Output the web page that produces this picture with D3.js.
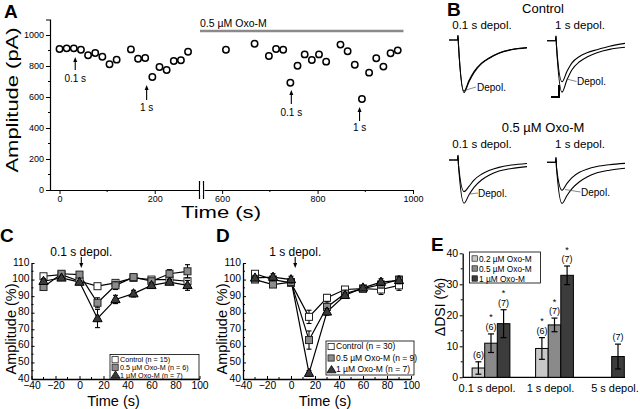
<!DOCTYPE html>
<html><head><meta charset="utf-8">
<script src="https://cdn.jsdelivr.net/npm/d3@7"></script>
<style>body{margin:0;background:#fff}svg{display:block}text{font-family:"Liberation Sans",Arial,Helvetica,sans-serif}</style>
</head><body>
<script>
// ---------- Panel A data ----------
const aTimeBefore = [0,15,30,45,60,75,90,105,120,150,165,180,195,210,225,240,255,270];
const aAmpBefore  = [910,914,914,905,869,884,860,811,841,907,847,852,729,794,774,832,837,892];
const aTimeOxo = [608,668,698,713,728,743,758,773,788,803,818,848,863,878,893,908,923,938,953,968];
const aAmpOxo  = [905,944,865,910,905,692,802,875,839,875,828,938,895,808,587,757,850,796,882,901];
const aYTicks = [0,200,400,600,800,1000];
const aXTicksLeft = [0,200];
const aXTicksRight = [600,800,1000];

// ---------- Panel B traces (ms, normalized amplitude) ----------
const bTime = [0,17,18,19,30,40,50,65,80,100,125,156];
const bCtrl01Ctrl  = [0,0,0.09,-0.1,-1.00,-0.79,-0.62,-0.45,-0.35,-0.25,-0.185,-0.15];
const bCtrl01Dep   = [0,0,0.09,-0.1,-0.97,-0.77,-0.60,-0.44,-0.34,-0.245,-0.18,-0.142];
const bCtrl1Ctrl   = [0,0,0.09,-0.1,-0.975,-0.74,-0.55,-0.40,-0.31,-0.228,-0.165,-0.125];
const bCtrl1Dep    = [0,0,0.09,-0.1,-0.78,-0.58,-0.42,-0.30,-0.23,-0.17,-0.105,-0.05];
const bOxo01Ctrl   = [0,0,0.09,-0.1,-0.82,-0.66,-0.52,-0.38,-0.29,-0.21,-0.16,-0.125];
const bOxo01Dep    = [0,0,0.09,-0.1,-0.60,-0.50,-0.38,-0.27,-0.20,-0.14,-0.095,-0.065];
const bOxo1Ctrl    = [0,0,0.09,-0.1,-0.78,-0.63,-0.50,-0.37,-0.28,-0.20,-0.15,-0.114];
const bOxo1Dep     = [0,0,0.09,-0.1,-0.53,-0.40,-0.29,-0.19,-0.13,-0.08,-0.045,-0.02];

// ---------- Panels C, D data ----------
const cdTime = [-30,-15,0,15,30,45,60,75,90];
const cCtrl = [102,103,99,96,98,101,100,100,99];
const cCtrlErr = [1.2,1,1,1,1.3,1,1,1.5,1.5];
const cOxo05 = [95.5,103.5,103,86,96.5,101.5,99,103.5,105];
const cOxo05Err = [1.5,1,1,3,2.5,1.5,1,2.5,4];
const cOxo1 = [99,101,98.5,76.5,88,91.5,96.5,98.5,96.5];
const cOxo1Err = [1.5,1,1,5.5,2.5,2,1.5,1.5,3];
const dCtrl = [103.5,100,98,77.5,89,94,94.5,94,96.5];
const dCtrlErr = [1.5,1.5,1.5,4,2,1.5,1.5,3,3];
const dOxo05 = [100,97,98.5,63.5,83.5,91.5,94.5,97,100];
const dOxo05Err = [1.5,1.5,2,5.5,3,2,1.5,2,2];
const dOxo1 = [101,101.5,100,43.5,80.5,90.5,95,98.5,99.5];
const dOxo1Err = [1.5,2,2,1.5,2,1.5,1.5,2,2];
const cdYTicks = [40,50,60,70,80,90,100,110];
const cdXTicks = [-40,-20,0,20,40,60,80,100];
const cLegend = ["Control (n = 15)","0.5 µM Oxo-M (n = 6)","1 µM Oxo-M (n = 7)"];
const dLegend = ["Control (n = 30)","0.5 µM Oxo-M (n = 9)","1 µM Oxo-M (n = 7)"];

// ---------- Panel E data ----------
const eGroups = ["0.1 s depol.","1 s depol.","5 s depol."];
const eSeries = ["0.2 µM Oxo-M","0.5 µM Oxo-M","1 µM Oxo-M"];
const eVal02 = [3, 9.3, null];
const eVal05 = [11, 16.9, null];
const eVal1  = [17.3, 32.9, 6.7];
const eErr02 = [2, 3.5, null];
const eErr05 = [3, 2.2, null];
const eErr1  = [4.5, 3, 4];
const eN02 = [6, 6, null];
const eN05 = [6, 7, null];
const eN1  = [7, 7, 7];
const eSig02 = [false, true, null];
const eSig05 = [true, true, null];
const eSig1  = [true, true, false];
const eYTicks = [0,10,20,30,40];

const FONT = '"Liberation Sans",Arial,Helvetica,sans-serif';
const svg = d3.select("body").append("svg").attr("width",640).attr("height",409);
svg.append("rect").attr("width",640).attr("height",409).attr("fill","#fff");

function letter(t,x,y){svg.append("text").attr("x",x).attr("y",y).attr("font-size",19).attr("font-weight","bold").text(t);}
function arrowUp(g,x,yTop,yBot){
  g.append("line").attr("x1",x).attr("x2",x).attr("y1",yTop+3).attr("y2",yBot).attr("stroke","#000").attr("stroke-width",1.1);
  g.append("path").attr("d",`M${x-2},${yTop+5}L${x},${yTop}L${x+2},${yTop+5}Z`).attr("fill","#000");
}
function arrowDown(g,x,yTop,yBot){
  g.append("line").attr("x1",x).attr("x2",x).attr("y1",yTop).attr("y2",yBot-3).attr("stroke","#000").attr("stroke-width",1.1);
  g.append("path").attr("d",`M${x-2},${yBot-5}L${x},${yBot}L${x+2},${yBot-5}Z`).attr("fill","#000");
}

// ================= Panel A =================
{
  const g = svg.append("g");
  const y = d3.scaleLinear().domain([0,1100]).range([190,19.5]);
  const xL = d3.scaleLinear().domain([-20,293]).range([50,199]);
  const xR = d3.scaleLinear().domain([562,1000]).range([204,413]);
  const ya = d3.axisLeft(y).tickValues(aYTicks).tickSize(4).tickPadding(2).tickFormat(d3.format("d"));
  const yg = g.append("g").attr("transform","translate(50,0)").call(ya);
  yg.select(".domain").attr("stroke-width",1.2);
  yg.selectAll("text").attr("font-size",9).attr("font-family",FONT);
  const yMinor = [100,300,500,700,900];
  g.selectAll(".ym").data(yMinor).join("line").attr("x1",48).attr("x2",50).attr("y1",d=>y(d)).attr("y2",d=>y(d)).attr("stroke","#000");
  const xag1 = g.append("g").attr("transform","translate(0,190)").call(d3.axisBottom(xL).tickValues(aXTicksLeft).tickSize(4).tickPadding(2).tickSizeOuter(0).tickFormat(d3.format("d")));
  const xag2 = g.append("g").attr("transform","translate(0,190)").call(d3.axisBottom(xR).tickValues(aXTicksRight).tickSize(4).tickPadding(2).tickSizeOuter(0).tickFormat(d3.format("d")));
  [xag1,xag2].forEach(a=>{a.select(".domain").attr("stroke-width",1.2);a.selectAll("text").attr("font-size",9).attr("font-family",FONT);});
  g.selectAll(".xm1").data([100]).join("line").attr("x1",d=>xL(d)).attr("x2",d=>xL(d)).attr("y1",190).attr("y2",192).attr("stroke","#000");
  g.selectAll(".xm2").data([700,900]).join("line").attr("x1",d=>xR(d)).attr("x2",d=>xR(d)).attr("y1",190).attr("y2",192).attr("stroke","#000");
  [199.5,203.5].forEach(x=>g.append("line").attr("x1",x).attr("x2",x).attr("y1",181).attr("y2",199).attr("stroke","#000").attr("stroke-width",1.2));
  g.append("rect").attr("x",200.2).attr("y",185).attr("width",2.6).attr("height",10).attr("fill","#fff");
  g.append("text").attr("transform","translate(18,100) rotate(-90)").attr("text-anchor","middle").attr("font-size",17)
    .attr("textLength",145).attr("lengthAdjust","spacingAndGlyphs").text("Amplitude (pA)");
  g.append("text").attr("x",221).attr("y",218).attr("text-anchor","middle").attr("font-size",17)
    .attr("textLength",80).attr("lengthAdjust","spacingAndGlyphs").text("Time (s)");
  g.append("line").attr("x1",xR(562)-4).attr("x2",xR(980)).attr("y1",31).attr("y2",31).attr("stroke","#8a8a8a").attr("stroke-width",2.5);
  g.append("text").attr("x",200).attr("y",27).attr("font-size",10.5).text("0.5 µM Oxo-M");
  g.selectAll(".p1").data(aTimeBefore.map((t,i)=>[t,aAmpBefore[i]])).join("circle")
    .attr("cx",d=>xL(d[0])).attr("cy",d=>y(d[1])).attr("r",3.2).attr("fill","#fff").attr("stroke","#000").attr("stroke-width",1.5);
  g.selectAll(".p2").data(aTimeOxo.map((t,i)=>[t,aAmpOxo[i]])).join("circle")
    .attr("cx",d=>xR(d[0])).attr("cy",d=>y(d[1])).attr("r",3.2).attr("fill","#fff").attr("stroke","#000").attr("stroke-width",1.5);
  const ann = [[xL(33),57,70,"0.1 s",82],[xL(183),85,100,"1 s",111],[xR(745),90,104,"0.1 s",116],[xR(888),107,121,"1 s",131]];
  ann.forEach(a=>{arrowUp(g,a[0],a[1],a[2]);g.append("text").attr("x",a[0]).attr("y",a[4]).attr("text-anchor","middle").attr("font-size",10).text(a[3]);});
  letter("A",4,18);
}

// ================= Panel B =================
{
  const g = svg.append("g");
  letter("B",447,16);
  g.append("text").attr("x",543).attr("y",13).attr("text-anchor","middle").attr("font-size",13).text("Control");
  g.append("text").attr("x",543).attr("y",132).attr("text-anchor","middle").attr("font-size",13).text("0.5 µM Oxo-M");
  [[482,29],[580,29],[482,148],[580,148]].forEach((p,i)=>g.append("text").attr("x",p[0]).attr("y",p[1]).attr("text-anchor","middle").attr("font-size",11.5).text(i%2===0?"0.1 s depol.":"1 s depol."));
  const panels = [
    {x0:449,base:40,tr:[bCtrl01Ctrl,bCtrl01Dep],lab:[477,91],lead:[466,90,476,87]},
    {x0:547,base:40.7,tr:[bCtrl1Ctrl,bCtrl1Dep],lab:[577,85],lead:[566.5,79,576.5,81.5]},
    {x0:449,base:160,tr:[bOxo01Ctrl,bOxo01Dep],lab:[478,197],lead:[469.5,194,478,193]},
    {x0:547,base:162.3,tr:[bOxo1Ctrl,bOxo1Dep],lab:[581,196],lead:[565,189.5,580.5,192]}
  ];
  panels.forEach(p=>{
    const x = d3.scaleLinear().domain([0,160]).range([p.x0,p.x0+80]);
    const y = d3.scaleLinear().domain([-1,0]).range([p.base+52.7,p.base]);
    const line = d3.line().x((d,i)=>x(bTime[i])).y(d=>y(d)).curve(d3.curveMonotoneX);
    p.tr.forEach(tr=>g.append("path").attr("d",line(tr)).attr("fill","none").attr("stroke","#000").attr("stroke-width",1.1));
    g.append("line").attr("x1",p.lead[0]).attr("y1",p.lead[1]).attr("x2",p.lead[2]).attr("y2",p.lead[3]).attr("stroke","#555").attr("stroke-width",0.7);
    g.append("text").attr("x",p.lab[0]).attr("y",p.lab[1]).attr("font-size",10).text("Depol.");
  });
  g.append("path").attr("d","M559,85L559,97L551,97").attr("fill","none").attr("stroke","#000").attr("stroke-width",2);
}

// ================= Panels C and D =================
function drawCD(opt){
  const g = svg.append("g");
  const x = d3.scaleLinear().domain([-40,100]).range([opt.x0,opt.x1]);
  const y = d3.scaleLinear().domain([40,110]).range([379,263]);
  const ya = g.append("g").attr("transform",`translate(${opt.x0},0)`).call(d3.axisLeft(y).tickValues(cdYTicks).tickSize(-3).tickPadding(2).tickSizeOuter(0));
  const xa = g.append("g").attr("transform","translate(0,379)").call(d3.axisBottom(x).tickValues(cdXTicks).tickSize(-3).tickPadding(2.5).tickSizeOuter(0));
  [ya,xa].forEach(a=>{a.select(".domain").attr("stroke-width",1.3);a.selectAll("text").attr("font-size",10.3).attr("font-family",FONT);});
  ya.selectAll("text").attr("dy","0.2em");
  d3.range(45,110,10).forEach(v=>g.append("line").attr("x1",opt.x0).attr("x2",opt.x0+2).attr("y1",y(v)).attr("y2",y(v)).attr("stroke","#000"));
  d3.range(-30,100,20).forEach(v=>g.append("line").attr("x1",x(v)).attr("x2",x(v)).attr("y1",379).attr("y2",377).attr("stroke","#000"));
  g.append("text").attr("transform",`translate(${opt.x0-16},329) rotate(-90)`).attr("text-anchor","middle").attr("font-size",14.5).text("Amplitude (%)");
  g.append("text").attr("x",(opt.x0+opt.x1)/2-2).attr("y",406).attr("text-anchor","middle").attr("font-size",14.5).text("Time (s)");
  const series = opt.series;
  const line = d3.line().x((d,i)=>x(cdTime[i])).y(d=>y(d));
  series.forEach(s=>g.append("path").attr("d",line(s.v)).attr("fill","none").attr("stroke","#000").attr("stroke-width",1.2));
  series.forEach(s=>{
    s.v.forEach((v,i)=>{
      const cx=x(cdTime[i]);
      g.append("line").attr("x1",cx).attr("x2",cx).attr("y1",y(v+s.e[i])).attr("y2",y(v-s.e[i])).attr("stroke","#000").attr("stroke-width",1.1);
      [v+s.e[i],v-s.e[i]].forEach(w=>g.append("line").attr("x1",cx-2.5).attr("x2",cx+2.5).attr("y1",y(w)).attr("y2",y(w)).attr("stroke","#000").attr("stroke-width",1.1));
    });
    g.selectAll(null).data(s.v).join(s.shape==="tri"?"path":"rect").each(function(v,i){
      const cx=x(cdTime[i]), cy=y(v), el=d3.select(this);
      if(s.shape==="tri") el.attr("d",`M${cx},${cy-5}L${cx+4.6},${cy+3.2}L${cx-4.6},${cy+3.2}Z`);
      else el.attr("x",cx-3.5).attr("y",cy-3.5).attr("width",7).attr("height",7);
      el.attr("fill",s.fill).attr("stroke",s.shape==="tri"?"#000":"#222").attr("stroke-width",1);
    });
  });
  const L = opt.legend;
  g.append("rect").attr("x",L.x).attr("y",L.y).attr("width",L.w).attr("height",L.h).attr("fill","#fff").attr("stroke","#000").attr("stroke-width",0.8);
  opt.labels.forEach((t,i)=>{
    const cy = L.y+L.first+i*L.step, s=series[i];
    if(s.shape==="tri") g.append("path").attr("d",`M${L.x+5.5},${cy-4}L${L.x+10},${cy+3.3}L${L.x+1},${cy+3.3}Z`).attr("fill",s.fill).attr("stroke","#000").attr("stroke-width",0.8);
    else g.append("rect").attr("x",L.x+2).attr("y",cy-3.1).attr("width",6.2).attr("height",6.2).attr("fill",s.fill).attr("stroke","#222").attr("stroke-width",0.8);
    g.append("text").attr("x",L.x+10).attr("y",cy+2.6).attr("font-size",L.fs).text(t);
  });
  arrowDown(g,x(opt.arrowT),257,268);
  g.append("text").attr("x",x(opt.arrowT)).attr("y",opt.labelY).attr("text-anchor","middle").attr("font-size",12).text(opt.arrowText);
  letter(opt.letter,opt.lx,opt.ly);
}
drawCD({x0:31.5,x1:199.5,letter:"C",lx:0,ly:242,arrowT:1.5,arrowText:"0.1 s depol.",labelY:256,
  series:[{v:cCtrl,e:cCtrlErr,fill:"#fff",shape:"sq"},{v:cOxo05,e:cOxo05Err,fill:"#8c8c8c",shape:"sq"},{v:cOxo1,e:cOxo1Err,fill:"#3a3a3a",shape:"tri"}],
  labels:cLegend,legend:{x:110,y:354.5,w:89,h:24.5,first:5.2,step:7.6,fs:7.2}});
drawCD({x0:243,x1:411,letter:"D",lx:216,ly:242,arrowT:3.5,arrowText:"1 s depol.",labelY:256,
  series:[{v:dCtrl,e:dCtrlErr,fill:"#fff",shape:"sq"},{v:dOxo05,e:dOxo05Err,fill:"#8c8c8c",shape:"sq"},{v:dOxo1,e:dOxo1Err,fill:"#3a3a3a",shape:"tri"}],
  labels:dLegend,legend:{x:326,y:341,w:88,h:34,first:5.5,step:11.5,fs:8.5}});

// ================= Panel E =================
{
  const g = svg.append("g");
  const y = d3.scaleLinear().domain([0,40]).range([377.3,253.3]);
  const x = d3.scalePoint().domain(eGroups).range([491,618]);
  const barW = 12.6;
  const ya = g.append("g").attr("transform","translate(462.7,0)").call(d3.axisLeft(y).tickValues(eYTicks).tickSize(3).tickPadding(1.5).tickSizeOuter(0));
  ya.select(".domain").attr("stroke-width",1.3);
  ya.selectAll("text").attr("font-size",10.5).attr("font-family",FONT);
  [5,15,25,35].forEach(v=>g.append("line").attr("x1",460.7).attr("x2",462.7).attr("y1",y(v)).attr("y2",y(v)).attr("stroke","#000"));
  g.append("line").attr("x1",462.7).attr("x2",625).attr("y1",377.3).attr("y2",377.3).attr("stroke","#000").attr("stroke-width",1.3);
  g.append("text").attr("transform","translate(445,307) rotate(-90)").attr("text-anchor","middle").attr("font-size",14).text("ΔDSI (%)");
  eGroups.forEach((gname,i)=>g.append("text").attr("x",x(gname)+(i===2?-3:-4)).attr("y",392).attr("text-anchor","middle").attr("font-size",11).text(gname));
  const fills = ["#c8c8c8","#8a8a8a","#3c3c3c"];
  const vals=[eVal02,eVal05,eVal1], errs=[eErr02,eErr05,eErr1], ns=[eN02,eN05,eN1], sigs=[eSig02,eSig05,eSig1];
  eGroups.forEach((gname,gi)=>{
    const present = [0,1,2].filter(si=>vals[si][gi]!=null);
    present.forEach((si,k)=>{
      const cx = x(gname) + (k-(present.length-1)/2)*barW;
      const v = vals[si][gi], e = errs[si][gi];
      g.append("rect").attr("x",cx-barW/2).attr("y",y(v)).attr("width",barW).attr("height",y(0)-y(v)).attr("fill",fills[si]).attr("stroke","#000").attr("stroke-width",1);
      g.append("line").attr("x1",cx).attr("x2",cx).attr("y1",y(v+e)).attr("y2",y(v-e)).attr("stroke","#000").attr("stroke-width",1.2);
      [v+e,v-e].forEach(w=>g.append("line").attr("x1",cx-3).attr("x2",cx+3).attr("y1",y(w)).attr("y2",y(w)).attr("stroke","#000").attr("stroke-width",1.2));
      const top = y(v+e);
      g.append("text").attr("x",cx).attr("y",top-4).attr("text-anchor","middle").attr("font-size",9).text(`(${ns[si][gi]})`);
      if(sigs[si][gi]) g.append("text").attr("x",cx).attr("y",top-13.5).attr("text-anchor","middle").attr("font-size",9).text("*");
    });
  });
  g.append("rect").attr("x",469.5).attr("y",252).attr("width",71).attr("height",31).attr("fill","#fff").attr("stroke","#000").attr("stroke-width",0.8);
  eSeries.forEach((s,i)=>{
    const cy = 258.5+i*10;
    g.append("rect").attr("x",472).attr("y",cy-2.7).attr("width",5.4).attr("height",5.4).attr("fill",fills[i]).attr("stroke","#000").attr("stroke-width",0.6);
    g.append("text").attr("x",479).attr("y",cy+3).attr("font-size",8.3).text(s);
  });
  letter("E",431,251);
}
</script>
</body></html>
